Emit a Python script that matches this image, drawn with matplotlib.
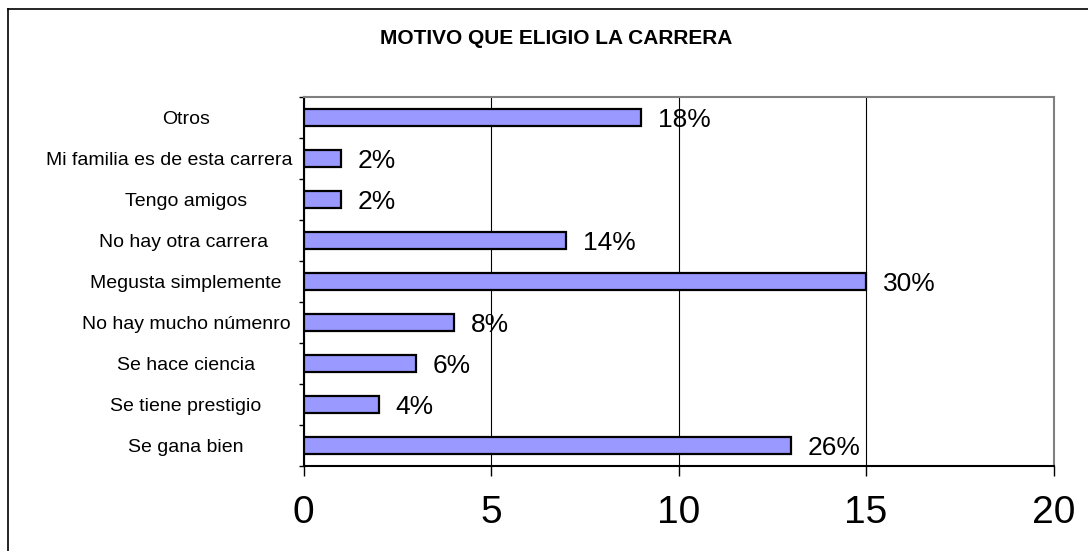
import numpy as np
import matplotlib.pyplot as plt
from matplotlib.lines import Line2D

plt.rcParams['font.family'] = ['Liberation Sans', 'DejaVu Sans']

motivos = ["Se gana bien", "Se tiene prestigio", "Se hace ciencia", "No hay mucho númenro",
           "Megusta simplemente", "No hay otra carrera ", "Tengo amigos",
           "Mi familia es de esta carrera", "Otros"]
cantidad = [13, 2, 3, 4, 15, 7, 1, 1, 9]
porcentaje = ["26%", "4%", "6%", "8%", "30%", "14%", "2%", "2%", "18%"]
x_ticks = [0, 5, 10, 15, 20]

W, H = 1088, 551
fig = plt.figure(figsize=(W / 100, H / 100), dpi=100)
ax = fig.add_axes([303.5 / W, 1 - 466 / H, (1053.5 - 303.5) / W, (466 - 97) / H])

y = np.arange(len(motivos))
ax.barh(y, cantidad, height=0.42, color="#9999ff", edgecolor="black", linewidth=1.6, zorder=3)
for yi, v, p in zip(y, cantidad, porcentaje):
    ax.text(v + 0.45, yi - 0.06, p, va="center", ha="left", fontsize=19, zorder=4)

ax.set_xlim(0, 20)
ax.set_ylim(-0.5, len(motivos) - 0.5)
ax.set_xticks(x_ticks)
ax.set_xticklabels([str(t) for t in x_ticks], fontsize=28)
ax.set_yticks(y)
ax.set_yticklabels([])
ax.set_yticks(np.arange(-0.5, len(motivos)), minor=True)
ax.tick_params(axis="y", which="major", length=0)
ax.tick_params(axis="y", which="minor", length=3.5, width=1, color="black")
ax.tick_params(axis="x", length=7, width=1, pad=14)
ax.grid(axis="x", color="black", linewidth=0.8, zorder=0)

for side in ["top", "right"]:
    ax.spines[side].set_color("#808080")
    ax.spines[side].set_linewidth(1.5)
for side in ["left", "bottom"]:
    ax.spines[side].set_color("black")
    ax.spines[side].set_linewidth(1.5)

# etiquetas de categoria centradas como en Excel, pegadas al eje si no caben
renderer = fig.canvas.get_renderer()
centro = 186 / W
limite = 292 / W
for yi, m in zip(y, motivos):
    t = fig.text(centro, 0, m, ha="center", va="center", fontsize=14)
    yfig = fig.transFigure.inverted().transform(ax.transData.transform((0, yi - 0.05)))[1]
    t.set_y(yfig)
    bb = t.get_window_extent(renderer).transformed(fig.transFigure.inverted())
    if bb.x1 > limite:
        t.set_x(limite)
        t.set_ha("right")

fig.text(556 / W, 1 - 38 / H, "MOTIVO QUE ELIGIO LA CARRERA", ha="center", va="center",
         fontsize=15, fontweight="bold")

# borde del grafico
fig.add_artist(Line2D([8 / W, 8 / W], [0, 1 - 9 / H], color="black", linewidth=1.2,
                      transform=fig.transFigure))
fig.add_artist(Line2D([8 / W, 1], [1 - 9 / H, 1 - 9 / H], color="black", linewidth=1.2,
                      transform=fig.transFigure))

plt.savefig("out.png", dpi=100)
